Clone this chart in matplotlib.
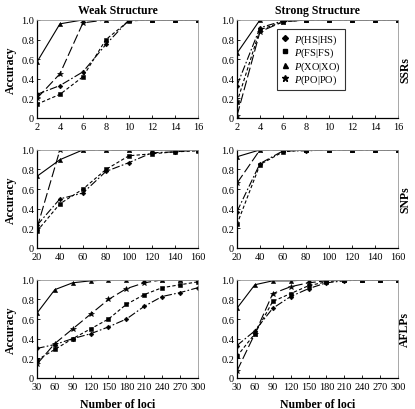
import matplotlib
matplotlib.use("Agg")
import matplotlib.pyplot as plt
from matplotlib.lines import Line2D

plt.rcParams['font.family'] = ['Liberation Serif', 'DejaVu Serif']
plt.rcParams['mathtext.fontset'] = 'custom'
plt.rcParams['mathtext.it'] = 'Liberation Serif:italic'
plt.rcParams['mathtext.rm'] = 'Liberation Serif'

# x values (number of loci)
ssr_x = [2, 4, 6, 8, 10, 12, 14, 16]
snp_x = [20, 40, 60, 80, 100, 120, 140, 160]
aflp_x = [30, 60, 90, 120, 150, 180, 210, 240, 270, 300]

# SSRs, weak structure
ssr_weak_hs = [0.24, 0.33, 0.47, 0.75, 1.0, 1.0, 1.0, 1.0]
ssr_weak_fs = [0.14, 0.24, 0.42, 0.80, 0.99, 1.0, 1.0, 1.0]
ssr_weak_xo = [0.57, 0.96, 1.0, 1.0, 1.0, 1.0, 1.0, 1.0]
ssr_weak_po = [0.20, 0.45, 0.97, 1.0, 1.0, 1.0, 1.0, 1.0]
# SSRs, strong structure
ssr_strong_hs = [0.33, 0.92, 0.99, 1.0, 1.0, 1.0, 1.0, 1.0]
ssr_strong_fs = [0.16, 0.90, 0.98, 1.0, 1.0, 1.0, 1.0, 1.0]
ssr_strong_xo = [0.66, 1.0, 1.0, 1.0, 1.0, 1.0, 1.0, 1.0]
ssr_strong_po = [0.02, 0.88, 0.98, 1.0, 1.0, 1.0, 1.0, 1.0]

# SNPs, weak structure
snp_weak_hs = [0.23, 0.50, 0.56, 0.78, 0.87, 0.97, 0.98, 1.0]
snp_weak_fs = [0.17, 0.45, 0.60, 0.80, 0.94, 0.96, 0.98, 0.99]
snp_weak_xo = [0.73, 0.90, 1.0, 1.0, 1.0, 1.0, 1.0, 1.0]
snp_weak_po = [0.20, 1.0, 1.0, 1.0, 1.0, 1.0, 1.0, 1.0]
# SNPs, strong structure
snp_strong_hs = [0.37, 0.86, 0.99, 0.99, 1.0, 1.0, 1.0, 1.0]
snp_strong_fs = [0.24, 0.85, 0.98, 1.0, 1.0, 1.0, 1.0, 1.0]
snp_strong_xo = [0.93, 1.0, 1.0, 1.0, 1.0, 1.0, 1.0, 1.0]
snp_strong_po = [0.66, 1.0, 1.0, 1.0, 1.0, 1.0, 1.0, 1.0]

# AFLPs, weak structure
aflp_weak_hs = [0.30, 0.34, 0.40, 0.45, 0.52, 0.60, 0.73, 0.83, 0.87, 0.92]
aflp_weak_fs = [0.18, 0.29, 0.40, 0.50, 0.60, 0.75, 0.85, 0.92, 0.95, 0.98]
aflp_weak_xo = [0.66, 0.90, 0.97, 0.99, 1.0, 1.0, 1.0, 1.0, 1.0, 1.0]
aflp_weak_po = [0.14, 0.35, 0.50, 0.65, 0.80, 0.91, 0.97, 1.0, 1.0, 1.0]
# AFLPs, strong structure
aflp_strong_hs = [0.33, 0.48, 0.71, 0.83, 0.91, 0.97, 0.99, 1.0, 1.0, 1.0]
aflp_strong_fs = [0.22, 0.45, 0.78, 0.86, 0.94, 0.98, 1.0, 1.0, 1.0, 1.0]
aflp_strong_xo = [0.71, 0.95, 0.99, 0.99, 1.0, 1.0, 1.0, 1.0, 1.0, 1.0]
aflp_strong_po = [0.07, 0.45, 0.86, 0.93, 0.97, 0.99, 1.0, 1.0, 1.0, 1.0]

row_labels = ["SSRs", "SNPs", "AFLPs"]
col_titles = ["Weak Structure", "Strong Structure"]
legend_labels = [r"$P$(HS|HS)", r"$P$(FS|FS)", r"$P$(XO|XO)", r"$P$(PO|PO)"]

panels = [
    [(ssr_x, ssr_weak_hs, ssr_weak_fs, ssr_weak_xo, ssr_weak_po),
     (ssr_x, ssr_strong_hs, ssr_strong_fs, ssr_strong_xo, ssr_strong_po)],
    [(snp_x, snp_weak_hs, snp_weak_fs, snp_weak_xo, snp_weak_po),
     (snp_x, snp_strong_hs, snp_strong_fs, snp_strong_xo, snp_strong_po)],
    [(aflp_x, aflp_weak_hs, aflp_weak_fs, aflp_weak_xo, aflp_weak_po),
     (aflp_x, aflp_strong_hs, aflp_strong_fs, aflp_strong_xo, aflp_strong_po)],
]

# (marker, size, linestyle)
styles = [
    ("D", 2.4, (0, (7, 2, 1.5, 2))),
    ("s", 2.6, (0, (3, 2))),
    ("^", 3.0, "-"),
    ("*", 4.2, (0, (9, 3))),
]

fig = plt.figure(figsize=(4.15, 4.10), dpi=100)
lefts = [0.089, 0.571]
bottoms = [0.710, 0.393, 0.076]
w, h = 0.388, 0.239

for r in range(3):
    for c in range(2):
        ax = fig.add_axes([lefts[c], bottoms[r], w, h])
        x = panels[r][c][0]
        for k in range(4):
            m, ms, ls = styles[k]
            ax.plot(x, panels[r][c][k + 1], color="black", lw=0.8, linestyle=ls,
                    marker=m, markersize=ms, markeredgewidth=0.4)
        ax.set_xlim(x[0], x[-1])
        ax.set_ylim(0, 1.0)
        ax.set_xticks(x)
        ax.set_yticks([0, 0.2, 0.4, 0.6, 0.8, 1.0])
        ax.set_yticklabels(["0", "0.2", "0.4", "0.6", "0.8", "1.0"])
        ax.tick_params(direction="in", length=2, width=0.6, labelsize=7.4, pad=2)
        ax.tick_params(axis="x", pad=3)
        for s in ["top", "right"]:
            ax.spines[s].set_color("#999999")
            ax.spines[s].set_linewidth(0.6)
        for s in ["left", "bottom"]:
            ax.spines[s].set_linewidth(0.9)
        if c == 0:
            ax.set_ylabel("Accuracy", fontsize=8.5, fontweight="bold", labelpad=3)
        else:
            ax.yaxis.set_label_position("right")
            ax.set_ylabel(row_labels[r], fontsize=8.5, fontweight="bold",
                          rotation=90, labelpad=1)
        if r == 0:
            ax.set_title(col_titles[c], fontsize=8.5, fontweight="bold", pad=5)
        if r == 2:
            ax.set_xlabel("Number of loci", fontsize=8.5, fontweight="bold", labelpad=5)
        if r == 0 and c == 1:
            handles = [Line2D([], [], color="black", linestyle="none", marker=styles[k][0],
                              markersize=styles[k][1] + 0.6) for k in range(4)]
            leg = ax.legend(handles, legend_labels, loc="upper left",
                            bbox_to_anchor=(0.25, 0.91), fontsize=7.5, frameon=True,
                            fancybox=False, edgecolor="black", handlelength=0.8,
                            handletextpad=0.5, borderpad=0.35, labelspacing=0.0,
                            borderaxespad=0)
            leg.get_frame().set_linewidth(0.8)

fig.savefig("out.png", dpi=100)
